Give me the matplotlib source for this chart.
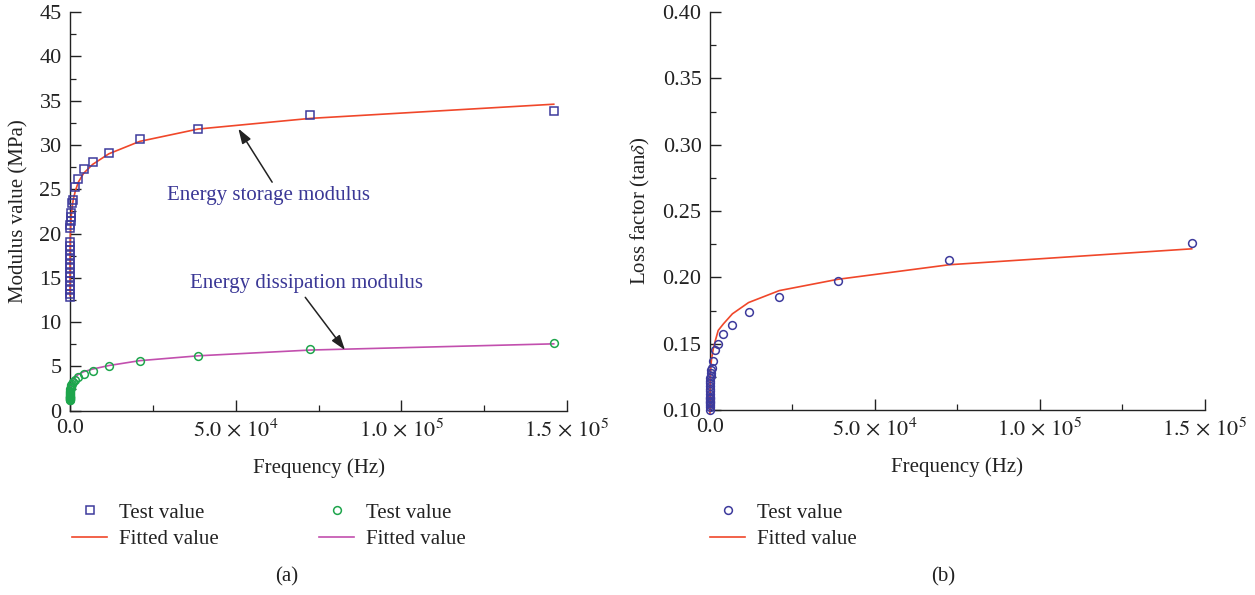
import matplotlib
matplotlib.use("Agg")
import matplotlib.pyplot as plt
from matplotlib.lines import Line2D
from matplotlib.ticker import MultipleLocator, FixedLocator, FixedFormatter

plt.rcParams["font.family"] = ["Liberation Serif", "DejaVu Serif"]
plt.rcParams["mathtext.fontset"] = "stix"

# Frequency points of the master curve (Hz)
freq = [146000, 72500, 38700, 21000, 11700, 6800, 4100, 2500, 1600, 1000,
        650, 420, 280, 180, 120, 80, 50, 30, 18, 10,
        6, 3.5, 2, 1.2, 0.7, 0.4, 0.25, 0.15, 0.09, 0.05]

# Storage modulus (MPa): measured and fitted
storage_test = [33.8, 33.4, 31.8, 30.7, 29.1, 28.1, 27.3, 26.2, 25.3, 23.8,
                23.5, 22.3, 21.9, 21.4, 21.0, 20.6, 19.0, 18.6, 18.1, 17.6,
                17.1, 16.6, 16.1, 15.6, 15.1, 14.6, 14.1, 13.6, 13.2, 12.8]
storage_fit = [34.6, 33.0, 31.8, 30.4, 29.0, 27.8, 26.8, 25.8, 24.8, 23.9,
               23.0, 22.2, 21.5, 20.8, 20.1, 19.5, 18.9, 18.3, 17.8, 17.2,
               16.7, 16.1, 15.6, 15.1, 14.7, 14.3, 13.9, 13.5, 13.2, 13.0]

# Loss (dissipation) modulus (MPa): measured and fitted
loss_test = [7.6, 7.0, 6.2, 5.6, 5.0, 4.5, 4.2, 3.85, 3.5, 3.2,
             3.0, 2.85, 2.7, 2.55, 2.4, 2.25, 2.1, 2.0, 1.9, 1.8,
             1.7, 1.6, 1.55, 1.5, 1.45, 1.4, 1.35, 1.3, 1.25, 1.2]
loss_fit = [7.55, 6.85, 6.2, 5.65, 5.1, 4.7, 4.4, 4.1, 3.8, 3.5,
            3.25, 3.0, 2.8, 2.6, 2.45, 2.3, 2.15, 2.0, 1.9, 1.8,
            1.7, 1.6, 1.5, 1.45, 1.4, 1.35, 1.3, 1.25, 1.2, 1.15]

# Loss factor tan(delta): measured and fitted
tan_test = [0.226, 0.213, 0.197, 0.185, 0.174, 0.164, 0.157, 0.150, 0.145, 0.137,
            0.132, 0.130, 0.128, 0.126, 0.124, 0.122, 0.120, 0.118, 0.116, 0.114,
            0.112, 0.110, 0.109, 0.108, 0.107, 0.106, 0.105, 0.104, 0.102, 0.100]
tan_fit = [0.2215, 0.2095, 0.1985, 0.190, 0.181, 0.1725, 0.165, 0.160, 0.152, 0.146,
           0.141, 0.137, 0.133, 0.130, 0.127, 0.124, 0.121, 0.118, 0.116, 0.114,
           0.112, 0.110, 0.108, 0.106, 0.104, 0.102, 0.101, 0.100, 0.098, 0.097]

x_ticks = [0, 50000, 100000, 150000]
x_ticklabels = ["0.0", r"$5.0\,\times\,10^{4}$", r"$1.0\,\times\,10^{5}$",
                r"$1.5\,\times\,10^{5}$"]

BLUE = "#3d3a9c"
RED = "#f0472a"
GREEN = "#1ea54c"
MAGENTA = "#c24fae"
TXT = "#3b3896"
INK = "#222222"

fig = plt.figure(figsize=(12.55, 5.95), dpi=100)
axL = fig.add_axes([0.0558, 0.3097, 0.396, 0.670])
axR = fig.add_axes([0.5657, 0.3109, 0.3944, 0.6689])


def style(ax):
    for s in ("top", "right"):
        ax.spines[s].set_visible(False)
    for s in ("left", "bottom"):
        ax.spines[s].set_linewidth(1.0)
        ax.spines[s].set_color(INK)
    ax.set_xlim(0, 150000)
    ax.xaxis.set_major_locator(FixedLocator(x_ticks))
    ax.xaxis.set_major_formatter(FixedFormatter(x_ticklabels))
    ax.xaxis.set_minor_locator(MultipleLocator(25000))
    ax.tick_params(which="major", direction="in", length=8, width=1.0,
                   labelsize=16, pad=6, colors=INK)
    ax.tick_params(which="minor", direction="in", length=4, width=0.9,
                   colors=INK)
    ax.set_xlabel("Frequency (Hz)", fontsize=15, color=INK, labelpad=12)


# Left panel: storage and dissipation modulus
style(axL)
axL.set_ylim(0, 45)
axL.yaxis.set_major_locator(MultipleLocator(5))
axL.yaxis.set_minor_locator(MultipleLocator(2.5))
axL.set_ylabel("Modulus value (MPa)", fontsize=15, color=INK, labelpad=8)

axL.plot(freq, storage_fit, color=RED, lw=1.2, clip_on=False, zorder=3)
axL.plot(freq, storage_test, ls="none", marker="s", ms=5.2, mfc="none",
         mec=BLUE, mew=1.1, clip_on=False, zorder=4)
axL.plot(freq, loss_fit, color=MAGENTA, lw=1.2, clip_on=False, zorder=3)
axL.plot(freq, loss_test, ls="none", marker="o", ms=5.6, mfc="none",
         mec=GREEN, mew=1.1, clip_on=False, zorder=4)

arrow_kw = dict(arrowstyle="-|>,head_length=0.9,head_width=0.3",
                color=INK, lw=1.1, shrinkA=0, shrinkB=0)
axL.text(59800, 24.3, "Energy storage modulus", fontsize=15, color=TXT,
         ha="center", va="center")
axL.annotate("", xy=(50800, 31.85), xytext=(61000, 25.8), arrowprops=arrow_kw)
axL.text(71500, 14.4, "Energy dissipation modulus", fontsize=15, color=TXT,
         ha="center", va="center")
axL.annotate("", xy=(83000, 6.85), xytext=(71000, 12.8), arrowprops=arrow_kw)

# Right panel: loss factor
style(axR)
axR.set_ylim(0.10, 0.40)
axR.yaxis.set_major_locator(MultipleLocator(0.05))
axR.yaxis.set_minor_locator(MultipleLocator(0.025))
axR.yaxis.set_major_formatter(matplotlib.ticker.FormatStrFormatter("%.2f"))
axR.set_ylabel(r"Loss factor (tan$\delta$)", fontsize=15, color=INK, labelpad=8)

axR.plot(freq, tan_fit, color=RED, lw=1.2, clip_on=False, zorder=3)
axR.plot(freq, tan_test, ls="none", marker="o", ms=5.6, mfc="none",
         mec=BLUE, mew=1.1, clip_on=False, zorder=4)

# Legends below each panel
leg_kw = dict(frameon=False, fontsize=15, handlelength=1.7, handletextpad=0.55,
              labelspacing=0.35, borderpad=0, borderaxespad=0,
              labelcolor=INK)
h_sq = Line2D([], [], ls="none", marker="s", ms=5.2, mfc="none", mec=BLUE, mew=1.1)
h_red = Line2D([], [], color=RED, lw=1.2)
h_gc = Line2D([], [], ls="none", marker="o", ms=5.6, mfc="none", mec=GREEN, mew=1.1)
h_mag = Line2D([], [], color=MAGENTA, lw=1.2)
h_bc = Line2D([], [], ls="none", marker="o", ms=5.6, mfc="none", mec=BLUE, mew=1.1)

fig.legend([h_sq, h_red], ["Test value", "Fitted value"], loc="upper left",
           bbox_to_anchor=(72 / 1255, 1 - 503 / 595), **leg_kw)
fig.legend([h_gc, h_mag], ["Test value", "Fitted value"], loc="upper left",
           bbox_to_anchor=(319 / 1255, 1 - 503 / 595), **leg_kw)
fig.legend([h_bc, h_red], ["Test value", "Fitted value"], loc="upper left",
           bbox_to_anchor=(710 / 1255, 1 - 503 / 595), **leg_kw)

fig.text(287 / 1255, 1 - 577 / 595, "(a)", fontsize=15, color=INK,
         ha="center", va="center")
fig.text(943 / 1255, 1 - 577 / 595, "(b)", fontsize=15, color=INK,
         ha="center", va="center")

fig.savefig("out.png", dpi=100)
